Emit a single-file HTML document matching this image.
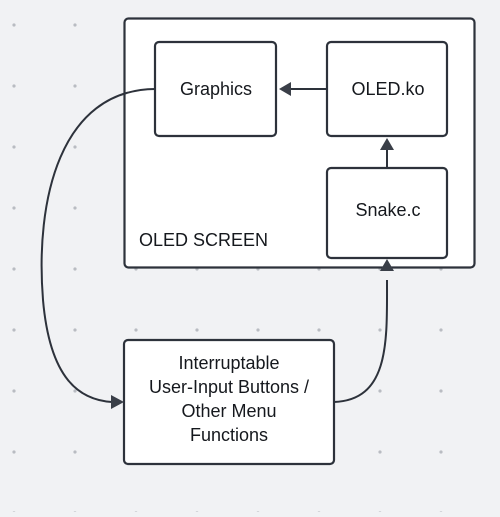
<!DOCTYPE html>
<html><head><style>
html,body{margin:0;padding:0;background:#f1f2f4;}
</style></head><body>
<svg width="500" height="512" xmlns="http://www.w3.org/2000/svg" font-family="Liberation Sans, sans-serif">
<defs>
<pattern id="d" x="0" y="0" width="61" height="61" patternUnits="userSpaceOnUse">
<circle cx="14" cy="25" r="1.6" fill="#b9bcc2"/>
</pattern>
</defs>
<rect width="500" height="512" fill="#f1f2f4"/>
<rect width="500" height="512" fill="url(#d)"/>
<g stroke="#2d323b" stroke-width="2.2" fill="#fff">
<rect x="124.5" y="18.5" width="350" height="249" rx="4"/>
<rect x="155" y="42" width="121" height="94" rx="4"/>
<rect x="327" y="42" width="120" height="94" rx="4"/>
<rect x="327" y="168" width="120" height="90" rx="4"/>
<rect x="124" y="340" width="210" height="124" rx="4"/>
</g>
<g stroke="#2d323b" stroke-width="2" fill="none">
<line x1="327" y1="89" x2="290" y2="89"/>
<line x1="387" y1="168" x2="387" y2="150"/>
<path d="M155 89 C 60 90, 35 200, 43 300 C 50 380, 80 400, 112 402"/>
<path d="M334 402 C 390 400, 387 340, 387 280"/>
</g>
<g fill="#3a3f48">
<polygon points="279,89 291,82 291,96"/>
<polygon points="387,138 380,150 394,150"/>
<polygon points="124,402 111,395 111,409"/>
<polygon points="387,259 380,271 394,271"/>
</g>
<g fill="#15181d" font-size="18" text-anchor="middle">
<text x="216" y="95">Graphics</text>
<text x="388" y="95">OLED.ko</text>
<text x="388" y="216">Snake.c</text>
<text x="139" y="246" text-anchor="start">OLED SCREEN</text>
<text x="229" y="369">Interruptable</text>
<text x="229" y="393">User-Input Buttons /</text>
<text x="229" y="417">Other Menu</text>
<text x="229" y="441">Functions</text>
</g>
</svg>
</body></html>
